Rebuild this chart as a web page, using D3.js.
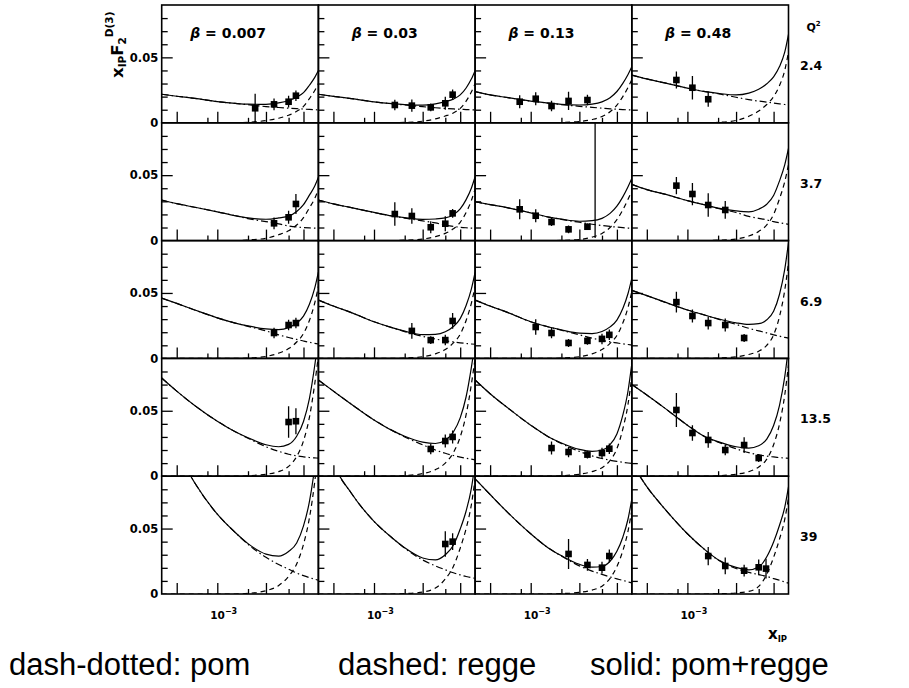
<!DOCTYPE html>
<html>
<head>
<meta charset="utf-8">
<script src="https://cdn.jsdelivr.net/npm/d3@7.9.0/dist/d3.min.js"></script>
<style>
  body { margin: 0; background: #fff; }
  svg { display: block; }
  .paw { font-family: "DejaVu Sans", sans-serif; font-weight: bold; fill: #000; }
  .curve { fill: none; stroke: #000; stroke-width: 1.2; }
  .foot { font-family: "Liberation Sans", Arial, sans-serif; font-size: 31px; fill: #000; }
</style>
</head>
<body>
<svg id="chart" width="909" height="688"></svg>
<script>
const betas = ['0.007', '0.03', '0.13', '0.48'];
const q2s = ['2.4', '3.7', '6.9', '13.5', '39'];

const xGrid = [2.85e-4, 4e-4, 6e-4, 1e-3, 1.5e-3, 2e-3, 3e-3, 4e-3, 5e-3, 6e-3, 7e-3, 8e-3, 9e-3, 9.8e-3];

const xTicksLong = [4e-4, 1e-3, 3e-3, 7e-3];
const xTicksShort = [8e-4, 2e-3, 5e-3];
const yTicksMinor = [0.01, 0.02, 0.03, 0.04, 0.06, 0.07, 0.08];
const yTicksMajor = [0.05];
const yLabels = [0, 0.05];

// data points: [x_IP, x_IP F2D3, error], one list per beta column
const pointsQ24 = [
  [[2.35e-3, 0.0111, 0.011], [3.6e-3, 0.0141, 0.0045], [5e-3, 0.0161, 0.0045], [5.9e-3, 0.0207, 0.004]],
  [[1.6e-3, 0.0136, 0.004], [2.35e-3, 0.0131, 0.0047], [3.6e-3, 0.0118, 0.003], [5e-3, 0.0149, 0.005], [5.9e-3, 0.0215, 0.004]],
  [[7.8e-4, 0.0161, 0.005], [1.12e-3, 0.0184, 0.005], [1.6e-3, 0.0128, 0.004], [2.35e-3, 0.0167, 0.007], [3.6e-3, 0.0174, 0.004]],
  [[7.8e-4, 0.0327, 0.0064], [1.12e-3, 0.0268, 0.009], [1.6e-3, 0.018, 0.0057]]
];
const pointsQ37 = [
  [[3.6e-3, 0.0132, 0.0045], [5e-3, 0.0178, 0.005], [5.9e-3, 0.028, 0.0076]],
  [[1.6e-3, 0.0203, 0.009], [2.35e-3, 0.0188, 0.006], [3.6e-3, 0.0102, 0.0045], [5e-3, 0.0129, 0.0057], [5.9e-3, 0.0208, 0.0034]],
  [[7.8e-4, 0.0239, 0.0076], [1.12e-3, 0.019, 0.005], [1.6e-3, 0.0142, 0.003], [2.35e-3, 0.0086, 0.003], [3.6e-3, 0.0106, 0.0025], [4.28e-3, 0.12, 0.118]],
  [[7.8e-4, 0.042, 0.0066], [1.12e-3, 0.0356, 0.0085], [1.6e-3, 0.0272, 0.009], [2.35e-3, 0.0234, 0.0068]]
];
const pointsQ69 = [
  [[3.6e-3, 0.0194, 0.004], [5e-3, 0.0255, 0.004], [5.9e-3, 0.027, 0.004]],
  [[2.35e-3, 0.021, 0.006], [3.6e-3, 0.014, 0.003], [5e-3, 0.014, 0.004], [5.9e-3, 0.0286, 0.006]],
  [[1.12e-3, 0.024, 0.006], [1.6e-3, 0.0194, 0.004], [2.35e-3, 0.0118, 0.003], [3.6e-3, 0.0134, 0.003], [5e-3, 0.0149, 0.004], [5.9e-3, 0.018, 0.004]],
  [[7.8e-4, 0.043, 0.008], [1.12e-3, 0.0324, 0.005], [1.6e-3, 0.027, 0.005], [2.35e-3, 0.0255, 0.005], [3.6e-3, 0.0156, 0.003]]
];
const pointsQ135 = [
  [[5e-3, 0.0414, 0.012], [5.9e-3, 0.042, 0.01]],
  [[3.6e-3, 0.0208, 0.004], [5e-3, 0.0269, 0.005], [5.9e-3, 0.030, 0.005]],
  [[1.6e-3, 0.0215, 0.005], [2.35e-3, 0.0185, 0.004], [3.6e-3, 0.0165, 0.003], [5e-3, 0.0177, 0.004], [5.9e-3, 0.021, 0.004]],
  [[7.8e-4, 0.0506, 0.013], [1.12e-3, 0.033, 0.006], [1.6e-3, 0.0277, 0.006], [2.35e-3, 0.02, 0.004], [3.6e-3, 0.0238, 0.006], [5e-3, 0.0139, 0.003]]
];
const pointsQ39 = [
  [],
  [[5e-3, 0.0382, 0.0098], [5.9e-3, 0.04, 0.0064]],
  [[2.35e-3, 0.0306, 0.0115], [3.6e-3, 0.0222, 0.0045], [5e-3, 0.0201, 0.0045], [5.9e-3, 0.029, 0.005]],
  [[1.6e-3, 0.029, 0.007], [2.35e-3, 0.0214, 0.0064], [3.6e-3, 0.0178, 0.0045], [5e-3, 0.0204, 0.006], [5.9e-3, 0.0194, 0.0076]]
];

// pomeron contribution at xGrid, per beta column
const pomQ24 = [
  [0.0218, 0.0203, 0.0187, 0.0162, 0.0148, 0.0138, 0.0124, 0.0117, 0.0112, 0.0108, 0.0105, 0.0102, 0.0100, 0.0099],
  [0.0218, 0.0202, 0.0185, 0.0160, 0.0146, 0.0136, 0.0123, 0.0115, 0.0110, 0.0106, 0.0103, 0.0101, 0.0099, 0.0098],
  [0.0238, 0.0213, 0.0192, 0.0165, 0.0150, 0.0139, 0.0126, 0.0118, 0.0112, 0.0107, 0.0104, 0.0101, 0.0099, 0.0098],
  [0.0365, 0.0335, 0.0305, 0.0265, 0.0238, 0.0222, 0.0195, 0.0177, 0.0166, 0.0158, 0.0151, 0.0145, 0.0140, 0.0136]
];
const pomQ37 = [
  [0.0310, 0.0282, 0.0255, 0.0220, 0.0190, 0.0168, 0.0145, 0.0128, 0.0112, 0.0104, 0.0100, 0.0097, 0.0095, 0.0094],
  [0.0310, 0.0280, 0.0252, 0.0215, 0.0188, 0.0172, 0.0150, 0.0135, 0.0118, 0.0108, 0.0102, 0.0098, 0.0095, 0.0094],
  [0.0297, 0.0275, 0.0250, 0.0212, 0.0180, 0.0162, 0.0140, 0.0125, 0.0115, 0.0108, 0.0103, 0.0099, 0.0096, 0.0094],
  [0.0430, 0.0390, 0.0355, 0.0305, 0.0272, 0.0245, 0.0215, 0.0185, 0.0170, 0.0158, 0.0145, 0.0136, 0.0129, 0.0124]
];
const pomQ69 = [
  [0.046, 0.042, 0.037, 0.031, 0.027, 0.0245, 0.021, 0.018, 0.016, 0.0145, 0.0133, 0.0123, 0.0115, 0.011],
  [0.0446, 0.040, 0.0350, 0.028, 0.0235, 0.0205, 0.0168, 0.0148, 0.0135, 0.0126, 0.0119, 0.0114, 0.0110, 0.0108],
  [0.0446, 0.040, 0.035, 0.028, 0.024, 0.0215, 0.018, 0.0155, 0.0138, 0.0126, 0.0118, 0.0111, 0.0106, 0.0102],
  [0.052, 0.048, 0.043, 0.037, 0.033, 0.030, 0.026, 0.023, 0.021, 0.0195, 0.018, 0.017, 0.016, 0.0155]
];
const pomQ135 = [
  [0.075, 0.065, 0.054, 0.042, 0.034, 0.029, 0.0225, 0.019, 0.0168, 0.0155, 0.0148, 0.0143, 0.0140, 0.0138],
  [0.0735, 0.065, 0.055, 0.043, 0.035, 0.030, 0.024, 0.020, 0.0175, 0.0158, 0.0146, 0.0137, 0.013, 0.0125],
  [0.0735, 0.063, 0.052, 0.039, 0.030, 0.025, 0.019, 0.0155, 0.0135, 0.0122, 0.0113, 0.0106, 0.0101, 0.0098],
  [0.070, 0.062, 0.052, 0.039, 0.030, 0.026, 0.021, 0.018, 0.0163, 0.0153, 0.0147, 0.0142, 0.0139, 0.0137]
];
const pomQ39 = [
  [0.135, 0.110, 0.085, 0.061, 0.047, 0.038, 0.028, 0.0225, 0.019, 0.016, 0.014, 0.0125, 0.0113, 0.0105],
  [0.140, 0.100, 0.077, 0.0555, 0.043, 0.035, 0.026, 0.0215, 0.0185, 0.0162, 0.0146, 0.0134, 0.0125, 0.012],
  [0.088, 0.076, 0.062, 0.046, 0.035, 0.029, 0.0215, 0.0175, 0.015, 0.013, 0.0116, 0.0104, 0.0093, 0.0085],
  [0.100, 0.082, 0.065, 0.046, 0.0335, 0.026, 0.0195, 0.0165, 0.0148, 0.0135, 0.0118, 0.0105, 0.0092, 0.0083]
];

// reggeon contribution at xGrid, per beta column
const reggeQ24 = [
  [0, 0, 0, 0, 0, 0.0004, 0.0017, 0.0035, 0.0058, 0.0088, 0.0125, 0.0185, 0.0245, 0.0300],
  [0, 0, 0, 0, 0, 0.0003, 0.0012, 0.0030, 0.0052, 0.0075, 0.0110, 0.0165, 0.0235, 0.0300],
  [0, 0, 0, 0, 0, 0.0002, 0.0010, 0.0025, 0.0048, 0.0085, 0.0135, 0.0200, 0.0270, 0.0330],
  [0, 0, 0, 0, 0, 0.0003, 0.0018, 0.0050, 0.0090, 0.0140, 0.0200, 0.0285, 0.0400, 0.0540]
];
const reggeQ37 = [
  [0, 0, 0, 0, 0, 0.0005, 0.0018, 0.0045, 0.0075, 0.0119, 0.0175, 0.0250, 0.0320, 0.0390],
  [0, 0, 0, 0, 0, 0.0003, 0.0012, 0.0030, 0.0055, 0.0090, 0.0140, 0.0215, 0.0305, 0.0394],
  [0, 0, 0, 0, 0, 0.0002, 0.0008, 0.0027, 0.0055, 0.0100, 0.0160, 0.0235, 0.0315, 0.0380],
  [0, 0, 0, 0, 0, 0.0003, 0.0012, 0.0035, 0.0070, 0.0120, 0.0200, 0.0320, 0.0450, 0.0580]
];
const reggeQ69 = [
  [0, 0, 0, 0, 0, 0.0003, 0.0015, 0.004, 0.0075, 0.0125, 0.019, 0.029, 0.042, 0.055],
  [0, 0, 0, 0, 0, 0.0003, 0.0013, 0.0035, 0.0068, 0.0118, 0.0185, 0.029, 0.042, 0.055],
  [0, 0, 0, 0, 0, 0.0003, 0.0013, 0.0035, 0.0068, 0.0115, 0.0175, 0.027, 0.039, 0.051],
  [0, 0, 0, 0, 0, 0.0003, 0.0012, 0.003, 0.0055, 0.010, 0.018, 0.032, 0.052, 0.073]
];
const reggeQ135 = [
  [0, 0, 0, 0, 0, 0.0004, 0.0015, 0.0035, 0.0075, 0.015, 0.027, 0.045, 0.070, 0.092],
  [0, 0, 0, 0, 0, 0.0005, 0.002, 0.005, 0.010, 0.018, 0.030, 0.047, 0.070, 0.090],
  [0, 0, 0, 0, 0, 0.0004, 0.0015, 0.0035, 0.0065, 0.012, 0.021, 0.036, 0.055, 0.076],
  [0, 0, 0, 0, 0, 0.0004, 0.0015, 0.0035, 0.007, 0.013, 0.024, 0.040, 0.062, 0.085]
];
const reggeQ39 = [
  [0, 0, 0, 0, 0, 0.0005, 0.0025, 0.0065, 0.0135, 0.023, 0.038, 0.058, 0.085, 0.110],
  [0, 0, 0, 0, 0, 0.0003, 0.0015, 0.0045, 0.0115, 0.021, 0.035, 0.050, 0.068, 0.088],
  [0, 0, 0, 0, 0, 0.0003, 0.0012, 0.003, 0.006, 0.012, 0.021, 0.033, 0.048, 0.064],
  [0, 0, 0, 0, 0, 0.0002, 0.0008, 0.002, 0.0058, 0.015, 0.028, 0.042, 0.057, 0.0735]
];

const footLabels = ['dash-dotted: pom', 'dashed: regge', 'solid: pom+regge'];

const rows = [
  { pts: pointsQ24, pom: pomQ24, reg: reggeQ24 },
  { pts: pointsQ37, pom: pomQ37, reg: reggeQ37 },
  { pts: pointsQ69, pom: pomQ69, reg: reggeQ69 },
  { pts: pointsQ135, pom: pomQ135, reg: reggeQ135 },
  { pts: pointsQ39, pom: pomQ39, reg: reggeQ39 }
];

const gridLeft = 161.7, gridTop = 5;
const pw = 156.7, ph = 117.8;

const svg = d3.select('#chart');
svg.append('rect').attr('width', 909).attr('height', 688).attr('fill', '#fff');

const x = d3.scaleLog().domain([2.85e-4, 9.8e-3]).range([0, pw]);
const y = d3.scaleLinear().domain([0, 0.09]).range([ph, 0]);

const line = d3.line()
  .x(d => x(d[0]))
  .y(d => y(d[1]))
  .curve(d3.curveMonotoneX);

function tickAxis(g, axis) {
  g.call(axis);
  g.select('.domain').remove();
  g.selectAll('line').attr('stroke', '#000').attr('stroke-width', 1.3);
}

rows.forEach((row, r) => {
  betas.forEach((beta, c) => {
    let g = svg.append('g')
      .attr('transform', `translate(${gridLeft + c * pw},${gridTop + r * ph})`);

    let clipId = `clip-${r}-${c}`;
    g.append('clipPath').attr('id', clipId)
      .append('rect').attr('width', pw).attr('height', ph);
    let inner = g.append('g').attr('clip-path', `url(#${clipId})`);

    let pom = xGrid.map((v, i) => [v, row.pom[c][i]]);
    let reg = xGrid.map((v, i) => [v, row.reg[c][i]]);
    let sum = xGrid.map((v, i) => [v, row.pom[c][i] + row.reg[c][i]]);

    inner.append('path').attr('class', 'curve').attr('d', line(pom))
      .attr('stroke-dasharray', '7,3,1.5,3');
    inner.append('path').attr('class', 'curve').attr('d', line(reg))
      .attr('stroke-dasharray', '5,4');
    inner.append('path').attr('class', 'curve').attr('d', line(sum));

    // error bars and markers
    inner.selectAll('line.err').data(row.pts[c]).join('line')
      .attr('class', 'err')
      .attr('x1', d => x(d[0])).attr('x2', d => x(d[0]))
      .attr('y1', d => y(d[1] - d[2])).attr('y2', d => y(d[1] + d[2]))
      .attr('stroke', '#000').attr('stroke-width', 1.3);
    inner.selectAll('rect.pt').data(row.pts[c]).join('rect')
      .attr('class', 'pt')
      .attr('x', d => x(d[0]) - 3.3).attr('y', d => y(d[1]) - 3.3)
      .attr('width', 6.6).attr('height', 6.6)
      .attr('fill', '#000');

    // ticks: inward on left and bottom
    g.append('g').call(tickAxis, d3.axisRight(y).tickValues(yTicksMinor).tickSize(6).tickFormat(''));
    g.append('g').call(tickAxis, d3.axisRight(y).tickValues(yTicksMajor).tickSize(11).tickFormat(''));
    g.append('g').attr('transform', `translate(0,${ph})`)
      .call(tickAxis, d3.axisTop(x).tickValues(xTicksShort).tickSize(5).tickFormat(''));
    g.append('g').attr('transform', `translate(0,${ph})`)
      .call(tickAxis, d3.axisTop(x).tickValues(xTicksLong).tickSize(11).tickFormat(''));

    g.append('rect').attr('width', pw).attr('height', ph)
      .attr('fill', 'none').attr('stroke', '#000').attr('stroke-width', 1.6);

    if (c === 0) {
      let lab = g.append('g')
        .call(d3.axisLeft(y).tickValues(yLabels).tickSize(0).tickPadding(3.5)
          .tickFormat(d => d === 0 ? '0' : '0.05'));
      lab.select('.domain').remove();
      lab.attr('font-family', null).attr('font-size', null);
      lab.selectAll('text').attr('class', 'paw').attr('font-size', 11.5);
    }

    if (r === 0) {
      let t = g.append('text').attr('class', 'paw')
        .attr('x', pw / 2 - 12).attr('y', 33)
        .attr('text-anchor', 'middle').attr('font-size', 14);
      t.append('tspan').attr('font-style', 'italic').text('β');
      t.append('tspan').text(' = ' + beta);
    }

    if (r === rows.length - 1) {
      let t = g.append('text').attr('class', 'paw')
        .attr('x', x(1e-3) - 7).attr('y', ph + 25)
        .attr('font-size', 10.5);
      t.append('tspan').text('10');
      t.append('tspan').attr('dy', -5).attr('font-size', 8).text('−3');
    }
  });

  svg.append('text').attr('class', 'paw')
    .attr('x', 800).attr('y', gridTop + r * ph + ph / 2 + 6)
    .attr('font-size', 12.5)
    .text(q2s[r]);
});

// Q^2 heading
let qh = svg.append('text').attr('class', 'paw')
  .attr('x', 806.5).attr('y', 31).attr('font-size', 11);
qh.append('tspan').text('Q');
qh.append('tspan').attr('dy', -5).attr('font-size', 7).text('2');

// y title, rotated
let yt = svg.append('text').attr('class', 'paw')
  .attr('transform', 'translate(123,78) rotate(-90)')
  .attr('font-size', 16.5);
yt.append('tspan').text('x');
yt.append('tspan').attr('font-size', 10.5).attr('dy', 3).text('IP');
yt.append('tspan').attr('dy', -3).text('F');
yt.append('tspan').attr('font-size', 10.5).attr('dy', 3).text('2');
yt.append('tspan').attr('font-size', 10.5).attr('dy', -13).text('D(3)');

// x title
let xt = svg.append('text').attr('class', 'paw')
  .attr('x', 768).attr('y', 639).attr('font-size', 15);
xt.append('tspan').text('x');
xt.append('tspan').attr('font-size', 8.5).attr('dy', 3).text('IP');

// legend line at the bottom
const footX = [9, 338, 590];
svg.selectAll('text.foot').data(footLabels).join('text')
  .attr('class', 'foot')
  .attr('x', (d, i) => footX[i]).attr('y', 675)
  .text(d => d);
</script>
</body>
</html>
